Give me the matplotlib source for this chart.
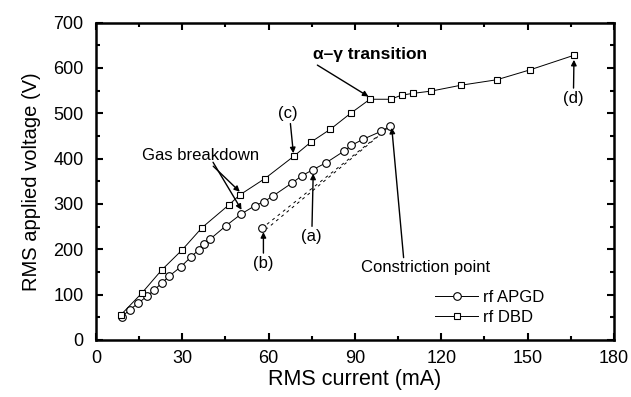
import matplotlib
matplotlib.use('Agg')
import matplotlib.pyplot as plt
from matplotlib.ticker import MultipleLocator

plt.rcParams['font.family'] = ['Liberation Sans', 'DejaVu Sans']

# rf APGD (circles)
apgd_current = [9.0, 11.8, 14.7, 17.6, 20.2, 22.8, 25.5, 29.6, 33.0, 35.8, 37.4,
                39.6, 45.2, 50.5, 55.2, 58.4, 61.6, 68.3, 71.5, 75.5, 80.0, 86.3,
                88.7, 92.9, 99.0, 102.3]
apgd_voltage = [51, 67, 81, 96, 110, 125, 141, 162, 183, 199, 212,
                222, 252, 278, 296, 305, 318, 347, 362, 376, 391, 417,
                429, 443, 460, 472]

# rf DBD (squares)
dbd_current = [8.6, 15.9, 22.8, 30.0, 36.9, 46.2, 50.0, 58.7, 68.9, 74.6, 81.5,
               88.5, 95.2, 102.4, 106.2, 110.2, 116.5, 126.9, 139.3, 150.9, 166.1]
dbd_voltage = [55, 103, 154, 199, 248, 298, 320, 356, 406, 436, 465,
               500, 531, 531, 540, 544, 549, 562, 574, 596, 628]

# dashed return paths (constriction -> (b))
dash1_current = [57.6, 102.3]
dash1_voltage = [246, 472]
dash2_current = [59.5, 100.5]
dash2_voltage = [246, 462]

fig = plt.figure(figsize=(6.31, 3.97), dpi=100)
ax = fig.add_axes([0.152, 0.1436, 0.821, 0.7994])

ax.plot(dash1_current, dash1_voltage, color='black', lw=0.7, ls=(0, (3, 4)),
        marker='o', markevery=[0], ms=5.5, mfc='white', mec='black', mew=0.8)
ax.plot(dash2_current, dash2_voltage, color='black', lw=0.7, ls=(2, (3, 4)))
ax.plot(apgd_current, apgd_voltage, color='black', lw=0.7, marker='o', ms=5.5,
        mfc='white', mec='black', mew=0.8, label='rf APGD')
ax.plot(dbd_current, dbd_voltage, color='black', lw=0.7, marker='s', ms=4.2,
        mfc='white', mec='black', mew=0.8, label='rf DBD')

ax.set_xlim(0, 180)
ax.set_ylim(0, 700)
ax.xaxis.set_major_locator(MultipleLocator(30))
ax.xaxis.set_minor_locator(MultipleLocator(15))
ax.yaxis.set_major_locator(MultipleLocator(100))
ax.yaxis.set_minor_locator(MultipleLocator(50))
ax.tick_params(which='both', direction='in', top=True, right=True, labelsize=13,
               width=1.5)
ax.tick_params(axis='y', pad=9)
ax.tick_params(axis='x', pad=7)
ax.tick_params(which='major', length=5)
ax.tick_params(which='minor', length=3)
for s in ax.spines.values():
    s.set_linewidth(1.8)

ax.set_xlabel('RMS current (mA)', fontsize=15.5, labelpad=2)
ax.set_ylabel('RMS applied voltage (V)', fontsize=14.5, labelpad=9)

arr = dict(arrowstyle='-|>', color='black', lw=1.0, mutation_scale=8,
           shrinkA=0, shrinkB=0)
fs = 12

ax.annotate('Gas breakdown', xy=(50, 327), xytext=(36.5, 406), fontsize=fs,
            ha='center', va='center', arrowprops=dict(arr, relpos=(0.58, 0)))
ax.annotate('', xy=(50.6, 287), xytext=(40.7, 392), arrowprops=arr)
ax.annotate('(c)', xy=(68.6, 412), xytext=(66.8, 500), fontsize=fs,
            ha='center', va='center',
            arrowprops=dict(arr, relpos=(0.6, 0)))
ax.annotate('α–γ transition', xy=(94.7, 537), xytext=(95.2, 629),
            fontsize=12.5, fontweight='bold', ha='center', va='center',
            arrowprops=dict(arr, relpos=(0.0, 0)))
ax.annotate('(d)', xy=(166.1, 618), xytext=(165.9, 533), fontsize=fs,
            ha='center', va='center', arrowprops=arr)
ax.annotate('(a)', xy=(75.5, 367), xytext=(75.0, 228), fontsize=fs,
            ha='center', va='center', arrowprops=arr)
ax.annotate('(b)', xy=(58.2, 238), xytext=(58.2, 169), fontsize=fs,
            ha='center', va='center', arrowprops=arr)
ax.annotate('Constriction point', xy=(102.8, 468), xytext=(114.4, 159),
            fontsize=fs, ha='center', va='center',
            arrowprops=dict(arr, relpos=(0.335, 1.0)))

ax.legend(loc='lower right', bbox_to_anchor=(0.895, 0.0), frameon=False,
          fontsize=fs, handlelength=2.6, handletextpad=0.3, labelspacing=0.3)

fig.savefig('out.png', dpi=100)
